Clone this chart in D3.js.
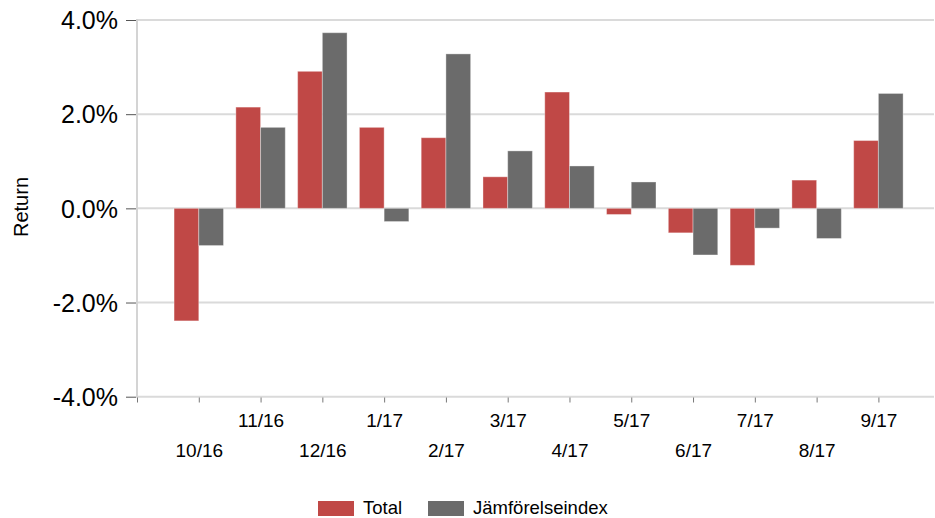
<!DOCTYPE html>
<html><head><meta charset="utf-8">
<script src="https://cdn.jsdelivr.net/npm/d3@7"></script>
<style>body{margin:0;background:#fff}text{font-family:"Liberation Sans",Arial,sans-serif;fill:#000}</style>
</head><body><svg id="c" width="935" height="518"></svg>
<script>
const categories = ["10/16","11/16","12/16","1/17","2/17","3/17","4/17","5/17","6/17","7/17","8/17","9/17"];
const totalValues = [-2.39, 2.15, 2.91, 1.72, 1.50, 0.67, 2.47, -0.13, -0.52, -1.21, 0.60, 1.44];
const indexValues = [-0.79, 1.72, 3.73, -0.28, 3.28, 1.22, 0.90, 0.56, -0.99, -0.42, -0.64, 2.44];
const yTicks = [-4, -2, 0, 2, 4];
const seriesNames = ["Total", "Jämförelseindex"];
const colors = ["#c04846", "#6b6b6b"];

const svg = d3.select("#c");
const x = d3.scaleLinear().domain([-1, 11.9]).range([137, 934]);
const y = d3.scaleLinear().domain([-4, 4]).range([396.7, 20]);
const half = 0.4;

// gridlines
svg.append("g").selectAll("line").data(yTicks).join("line")
  .attr("x1", 137).attr("x2", 934).attr("y1", d => y(d)).attr("y2", d => y(d))
  .attr("stroke", "#dadada").attr("stroke-width", 2);

// y axis line
svg.append("line").attr("x1", 137).attr("x2", 137).attr("y1", y(4) - 1).attr("y2", y(-4) + 1)
  .attr("stroke", "#d4d4d4").attr("stroke-width", 2);

// y axis ticks + labels
const yAxis = d3.axisLeft(y).tickValues(yTicks).tickSize(10).tickPadding(8)
  .tickFormat(d => d3.format(".1f")(d).replace("\u2212", "-") + "%");
const gy = svg.append("g").attr("transform", "translate(136,0)").call(yAxis);
gy.select(".domain").remove();
gy.selectAll(".tick line").attr("stroke", "#555");
gy.selectAll(".tick text").style("font-size", "25px").attr("dy", "0.35em");

// x axis ticks
const xt = d3.range(-1, 12);
const xAxis = d3.axisBottom(x).tickValues(xt).tickSize(5).tickFormat(d => d >= 0 ? categories[d] : "");
const gx = svg.append("g").attr("transform", "translate(0,397.5)").call(xAxis);
gx.select(".domain").remove();
gx.selectAll(".tick line").attr("stroke", "#777");
gx.selectAll(".tick text").style("font-size", "19px")
  .attr("y", d => (d % 2 === 0) ? 59.5 : 29.5).attr("dy", "0");

// bars
const data = categories.map((c, i) => ({i, t: totalValues[i], g: indexValues[i]}));
svg.append("g").selectAll("rect").data(data).join("rect")
  .attr("x", d => x(d.i - half)).attr("width", d => x(d.i) - x(d.i - half))
  .attr("y", d => y(Math.max(0, d.t))).attr("height", d => Math.abs(y(d.t) - y(0)))
  .attr("fill", colors[0]).attr("stroke", "rgba(255,255,255,0.35)").attr("stroke-width", 1);
svg.append("g").selectAll("rect").data(data).join("rect")
  .attr("x", d => x(d.i)).attr("width", d => x(d.i + half) - x(d.i))
  .attr("y", d => y(Math.max(0, d.g))).attr("height", d => Math.abs(y(d.g) - y(0)))
  .attr("fill", colors[1]).attr("stroke", "rgba(255,255,255,0.35)").attr("stroke-width", 1);

// y title
svg.append("text").attr("transform", "translate(28,207) rotate(-90)")
  .attr("text-anchor", "middle").style("font-size", "20px").text("Return");

// legend
const lx = [318, 428];
const lg = svg.append("g");
seriesNames.forEach((n, k) => {
  lg.append("rect").attr("x", lx[k]).attr("y", 501).attr("width", 36).attr("height", 15).attr("fill", colors[k]);
  lg.append("text").attr("x", lx[k] + 45).attr("y", 513.5).style("font-size", "18.5px").text(n);
});
</script></body></html>
